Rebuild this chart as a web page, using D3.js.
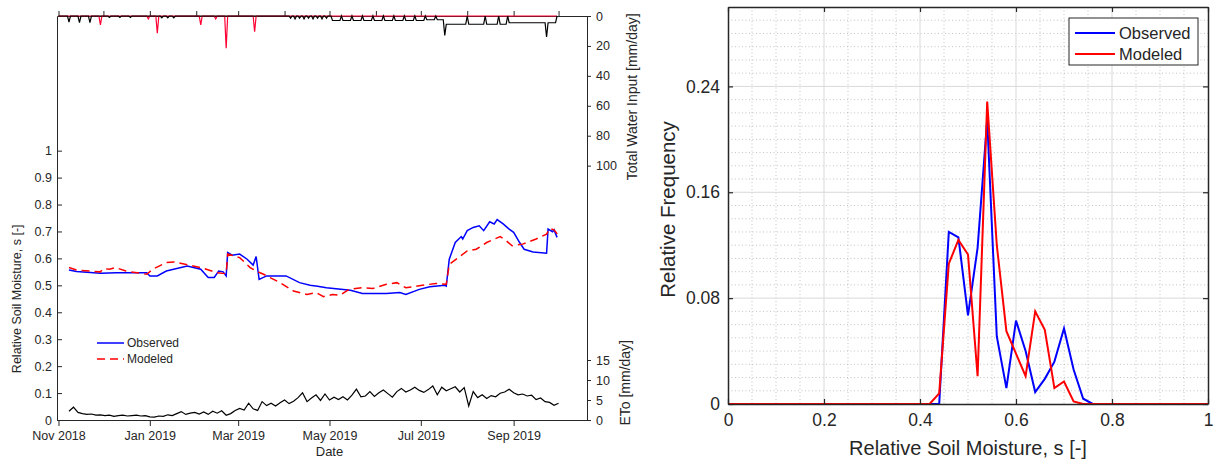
<!DOCTYPE html>
<html>
<head>
<meta charset="utf-8">
<script src="https://cdn.jsdelivr.net/npm/d3@7"></script>
<style>
  body { margin: 0; background: #fff; }
  svg { display: block; font-family: "Liberation Sans", Arial, sans-serif; }
</style>
</head>
<body>
<svg id="chart" width="1214" height="463"></svg>
<script>
// ---- data (left panel: time series) ----
const obsDates = ["2018-11-08","2018-11-13","2018-11-29","2018-12-10","2018-12-30","2019-01-01","2019-01-06","2019-01-12",
  "2019-01-26","2019-02-04","2019-02-09","2019-02-13","2019-02-16","2019-02-19","2019-02-21","2019-02-22","2019-02-25",
  "2019-03-02","2019-03-07","2019-03-11","2019-03-13","2019-03-15","2019-03-20","2019-04-02","2019-04-11","2019-04-18",
  "2019-04-23","2019-04-29","2019-05-15","2019-05-23","2019-06-08","2019-06-17","2019-06-21","2019-06-30","2019-07-07",
  "2019-07-17","2019-07-18","2019-07-20","2019-07-24","2019-07-28","2019-07-29","2019-08-01","2019-08-05","2019-08-09",
  "2019-08-12","2019-08-16","2019-08-19","2019-08-21","2019-08-25","2019-08-29","2019-09-01","2019-09-05","2019-09-08",
  "2019-09-14","2019-09-23","2019-09-24","2019-09-27","2019-09-28","2019-09-30"];
const obsValues = [0.557,0.551,0.545,0.547,0.547,0.535,0.535,0.553,
  0.572,0.560,0.529,0.529,0.553,0.550,0.535,0.622,0.612,
  0.616,0.597,0.575,0.607,0.522,0.535,0.535,0.510,0.500,
  0.497,0.491,0.482,0.470,0.470,0.473,0.466,0.485,0.495,
  0.500,0.497,0.597,0.659,0.681,0.672,0.703,0.715,0.721,
  0.703,0.736,0.728,0.744,0.728,0.709,0.697,0.659,0.634,
  0.624,0.619,0.709,0.699,0.706,0.678];

const modDates = ["2018-11-08","2018-11-13","2018-11-29","2018-12-01","2018-12-05","2018-12-09","2018-12-16","2018-12-30",
  "2019-01-03","2019-01-12","2019-01-17","2019-02-04","2019-02-15","2019-02-21","2019-02-22","2019-03-02","2019-03-09",
  "2019-03-13","2019-03-18","2019-03-29","2019-04-07","2019-04-16","2019-04-22","2019-04-27","2019-05-03","2019-05-08",
  "2019-05-14","2019-05-23","2019-05-30","2019-06-08","2019-06-15","2019-06-21","2019-06-26","2019-07-02","2019-07-11",
  "2019-07-18","2019-07-20","2019-07-27","2019-08-01","2019-08-07","2019-08-14","2019-08-23","2019-08-27","2019-08-31",
  "2019-09-07","2019-09-16","2019-09-23","2019-09-25","2019-09-28","2019-10-01"];
const modValues = [0.566,0.557,0.550,0.562,0.560,0.566,0.553,0.541,
  0.560,0.585,0.587,0.566,0.547,0.543,0.616,0.603,0.566,
  0.553,0.541,0.510,0.479,0.466,0.473,0.458,0.466,0.463,
  0.485,0.491,0.488,0.504,0.510,0.491,0.495,0.500,0.507,
  0.504,0.578,0.607,0.628,0.634,0.659,0.681,0.666,0.647,
  0.653,0.672,0.690,0.711,0.706,0.685];

// reference ET, sampled every 3 days from the start date
const etoStart = "2018-11-08";
const etoStep = 3;
const etoValues = [2.2,3.2,1.9,1.6,1.4,1.5,1.2,1.3,1.1,1.2,
  0.9,1.1,1.2,1.0,1.1,1.2,1.0,1.1,0.8,0.7,
  1.0,0.9,1.3,1.1,1.6,2.1,1.4,1.7,1.9,1.5,
  2.0,1.4,2.2,1.7,2.3,1.2,1.6,2.4,2.9,2.5,
  4.2,2.8,2.4,4.6,3.6,4.2,3.5,4.3,5.0,4.1,
  4.7,5.6,6.8,4.6,5.5,6.3,4.9,6.5,5.0,5.7,
  5.1,5.8,5.0,6.2,7.7,5.8,6.0,7.1,5.9,6.8,
  7.5,6.6,5.7,7.1,7.9,7.0,7.5,8.2,7.4,6.9,
  7.6,8.5,6.3,8.2,7.3,7.8,8.3,7.0,8.1,3.5,
  7.1,5.6,6.3,5.4,6.1,5.8,6.7,7.0,7.7,6.8,
  6.3,6.5,6.0,6.2,5.1,5.5,4.6,4.4,3.7,4.2];

// rainfall spikes (single days)
const rainDates = ["2018-11-29","2018-12-31","2019-01-06","2019-02-04","2019-02-14","2019-02-21","2019-03-12"];
const rainValues = [6, 2, 11.5, 6, 2, 21.5, 10.5];

// irrigation blocks: start, end, mm/day
const irrigStart = ["2018-11-08","2018-11-15","2018-11-22","2018-12-05","2018-12-12","2018-12-19","2019-01-09","2019-01-13",
  "2019-01-17","2019-04-05","2019-04-08","2019-04-11","2019-04-14","2019-04-17","2019-04-20","2019-04-23","2019-04-26",
  "2019-04-29","2019-05-03","2019-05-10","2019-05-17","2019-05-24","2019-05-31","2019-06-07","2019-06-14","2019-06-21",
  "2019-06-28","2019-07-05","2019-07-12","2019-07-17","2019-07-18","2019-08-02","2019-08-14","2019-08-23","2019-08-29",
  "2019-09-23","2019-09-24"];
const irrigEnd = ["2018-11-08","2018-11-15","2018-11-22","2018-12-05","2018-12-12","2018-12-19","2019-01-09","2019-01-13",
  "2019-01-17","2019-04-05","2019-04-08","2019-04-11","2019-04-14","2019-04-17","2019-04-20","2019-04-23","2019-04-26",
  "2019-04-29","2019-05-08","2019-05-15","2019-05-22","2019-05-29","2019-06-05","2019-06-12","2019-06-19","2019-06-26",
  "2019-07-03","2019-07-10","2019-07-16","2019-07-17","2019-07-31","2019-08-12","2019-08-21","2019-08-27","2019-09-22",
  "2019-09-23","2019-09-29"];
const irrigValues = [4,4.5,4.5,1,1,1,1.2,1.2,
  1.2,1.5,2,1.5,2,1.5,2,1.5,2,
  1.5,3,3,3,3,3,3,3,3,
  3,2.5,2.5,13,5.5,5.5,5.5,5.5,4.5,
  14,4.5];

const dateTicks = ["2018-11-01","2019-01-01","2019-03-01","2019-05-01","2019-07-01","2019-09-01"];
const soilTicks = [0,0.1,0.2,0.3,0.4,0.5,0.6,0.7,0.8,0.9,1];
const waterTicks = [0,20,40,60,80,100];
const etoTicks = [0,5,10,15];

// ---- data (right panel: histogram) ----
const binCenters = d3.range(0, 51).map(i => +(i * 0.02).toFixed(2));
const obsFreq = [0,0,0,0,0,0,0,0,0,0, 0,0,0,0,0,0,0,0,0,0, 0,0,0,0.130,0.126,0.067,0.118,0.215,0.051,0.012,
  0.063,0.040,0.009,0.019,0.032,0.057,0.026,0.004,0,0, 0,0,0,0,0,0,0,0,0,0, 0];
const modFreq = [0,0,0,0,0,0,0,0,0,0, 0,0,0,0,0,0,0,0,0,0, 0,0,0.008,0.106,0.124,0.113,0.021,0.2285,0.120,0.055,
  0.038,0.021,0.070,0.056,0.012,0.017,0.002,0,0,0, 0,0,0,0,0,0,0,0,0,0, 0];
const sTicks = [0,0.2,0.4,0.6,0.8,1];
const fTicks = [0,0.08,0.16,0.24];

const parse = d3.timeParse("%Y-%m-%d");
const svg = d3.select("#chart");
const ink = "#262626";

// ================= left panel =================
const L = {left: 57, right: 587, top: 16, bottom: 420};

const x = d3.scaleTime()
  .domain([parse("2018-10-31"), parse("2019-10-20")])
  .range([L.left, L.right]);
const ySoil = d3.scaleLinear().domain([0, 1.5]).range([L.bottom, L.top]);
const yWater = d3.scaleLinear().domain([0, 270]).range([L.top, L.bottom]);
const yEto = d3.scaleLinear().domain([0, 101]).range([L.bottom, L.top]);

// daily water input table
const days = d3.timeDay.range(parse("2018-11-01"), parse("2019-10-01"));
const rainMap = new Map(rainDates.map((d, i) => [+parse(d), rainValues[i]]));
const rainSeries = days.map(d => ({date: d, v: rainMap.get(+d) || 0}));
const irrigSeries = days.map(d => {
  let v = 0;
  irrigStart.forEach((s, i) => {
    if (d >= parse(s) && d <= parse(irrigEnd[i])) v = irrigValues[i];
  });
  return {date: d, v: v};
});

const obs = obsDates.map((d, i) => ({date: parse(d), v: obsValues[i]}));
const mod = modDates.map((d, i) => ({date: parse(d), v: modValues[i]}));
const eto = etoValues.map((v, i) => ({date: d3.timeDay.offset(parse(etoStart), i * etoStep), v: v}));

const left = svg.append("g");

// top axis line with monthly ticks
left.append("g")
  .attr("transform", `translate(0,${L.top})`)
  .call(d3.axisTop(x).ticks(d3.timeMonth.every(1)).tickSize(5).tickSizeOuter(0).tickFormat(""))
  .call(g => g.selectAll("line,path").attr("stroke", ink));

const waterLine = d3.line().x(d => x(d.date)).y(d => yWater(d.v));
left.append("path").datum(rainSeries)
  .attr("fill", "none").attr("stroke", "#ff0033").attr("stroke-width", 1.2)
  .attr("d", waterLine);
left.append("path").datum(irrigSeries)
  .attr("fill", "none").attr("stroke", "#000").attr("stroke-width", 1.2)
  .attr("d", waterLine);

left.append("path").datum(eto)
  .attr("fill", "none").attr("stroke", "#000").attr("stroke-width", 1.2)
  .attr("d", d3.line().x(d => x(d.date)).y(d => yEto(d.v)));

const soilLine = d3.line().x(d => x(d.date)).y(d => ySoil(d.v));
left.append("path").datum(obs)
  .attr("fill", "none").attr("stroke", "#0000ff").attr("stroke-width", 1.5)
  .attr("d", soilLine);
left.append("path").datum(mod)
  .attr("fill", "none").attr("stroke", "#ff0000").attr("stroke-width", 1.5)
  .attr("stroke-dasharray", "8,5")
  .attr("d", soilLine);

// axes
const fmtSoil = d => (d === 0 ? "0" : d === 1 ? "1" : d3.format(".1f")(d));
left.append("g")
  .attr("transform", `translate(${L.left},0)`)
  .call(d3.axisLeft(ySoil).tickValues(soilTicks).tickFormat(fmtSoil).tickSize(-5).tickSizeOuter(0).tickPadding(5));

left.append("g")
  .attr("transform", `translate(0,${L.bottom})`)
  .call(d3.axisBottom(x).tickValues(dateTicks.map(parse)).tickFormat(d3.timeFormat("%b %Y"))
    .tickSize(6).tickSizeOuter(0).tickPadding(5));

left.append("g")
  .attr("transform", `translate(${L.right},0)`)
  .call(d3.axisRight(yWater).tickValues(waterTicks).tickSize(4).tickSizeOuter(0).tickPadding(5));

left.append("g")
  .attr("transform", `translate(${L.right},0)`)
  .call(d3.axisRight(yEto).tickValues(etoTicks).tickSize(4).tickSizeOuter(0).tickPadding(5))
  .call(g => g.select(".domain").remove());

left.selectAll(".tick text").attr("font-size", "12.5px").attr("fill", ink)
  .attr("font-family", "Liberation Sans, Arial, sans-serif");
left.selectAll(".domain, .tick line").attr("stroke", ink);

// axis titles
left.append("text")
  .attr("transform", `translate(17,${ySoil(0.45)}) rotate(-90)`)
  .attr("text-anchor", "middle").attr("dy", "0.35em")
  .attr("font-size", "12.5px").attr("fill", ink)
  .text("Relative Soil Moisture, s [-]");
left.append("text")
  .attr("transform", `translate(632,${yWater(54)}) rotate(-90)`)
  .attr("text-anchor", "middle").attr("dy", "0.35em")
  .attr("font-size", "14px").attr("fill", ink)
  .text("Total Water Input [mm/day]");
left.append("text")
  .attr("transform", `translate(625,${yEto(9.3)}) rotate(-90)`)
  .attr("text-anchor", "middle").attr("dy", "0.35em")
  .attr("font-size", "14px").attr("fill", ink)
  .text("ETo [mm/day]");
left.append("text")
  .attr("x", x(parse("2019-05-01"))).attr("y", 456)
  .attr("text-anchor", "middle")
  .attr("font-size", "13px").attr("fill", ink)
  .text("Date");

// legend
const legL = left.append("g").attr("transform", "translate(97,343)");
[["Observed", "#0000ff", null], ["Modeled", "#ff0000", "8,5"]].forEach((d, i) => {
  legL.append("line").attr("x1", 0).attr("x2", 27).attr("y1", i * 16).attr("y2", i * 16)
    .attr("stroke", d[1]).attr("stroke-width", 1.5).attr("stroke-dasharray", d[2]);
  legL.append("text").attr("x", 30).attr("y", i * 16).attr("dy", "0.35em")
    .attr("font-size", "12px").attr("fill", ink).text(d[0]);
});

// ================= right panel =================
const R = {left: 728, right: 1208, top: 7, bottom: 404};
const xs = d3.scaleLinear().domain([0, 1]).range([R.left, R.right]);
const yf = d3.scaleLinear().domain([0, 0.3]).range([R.bottom, R.top]);

const right = svg.append("g");

// minor grid
const minorX = d3.range(1, 20).map(i => i * 0.05).filter(v => Math.abs(v / 0.2 - Math.round(v / 0.2)) > 1e-6);
const minorY = d3.range(1, 30).map(i => i * 0.01).filter(v => Math.abs(v / 0.08 - Math.round(v / 0.08)) > 1e-6);
right.append("g").selectAll("line").data(minorX).join("line")
  .attr("x1", d => xs(d)).attr("x2", d => xs(d)).attr("y1", R.top).attr("y2", R.bottom)
  .attr("stroke", "#9a9a9a").attr("stroke-width", 0.6).attr("stroke-dasharray", "1,2.5");
right.append("g").selectAll("line").data(minorY).join("line")
  .attr("x1", R.left).attr("x2", R.right).attr("y1", d => yf(d)).attr("y2", d => yf(d))
  .attr("stroke", "#9a9a9a").attr("stroke-width", 0.6).attr("stroke-dasharray", "1,2.5");

// major grid
right.append("g").selectAll("line").data(sTicks.slice(1, -1)).join("line")
  .attr("x1", d => xs(d)).attr("x2", d => xs(d)).attr("y1", R.top).attr("y2", R.bottom)
  .attr("stroke", "#d9d9d9").attr("stroke-width", 1);
right.append("g").selectAll("line").data(fTicks.slice(1)).join("line")
  .attr("x1", R.left).attr("x2", R.right).attr("y1", d => yf(d)).attr("y2", d => yf(d))
  .attr("stroke", "#d9d9d9").attr("stroke-width", 1);

const freqLine = d3.line().x((d, i) => xs(binCenters[i])).y(d => yf(d));
right.append("path").datum(obsFreq)
  .attr("fill", "none").attr("stroke", "#0000ff").attr("stroke-width", 2)
  .attr("d", freqLine);
right.append("path").datum(modFreq)
  .attr("fill", "none").attr("stroke", "#ff0000").attr("stroke-width", 2)
  .attr("d", freqLine);

// box with inward ticks
const fmtS = d => (d === 0 ? "0" : d === 1 ? "1" : d3.format(".1f")(d));
const fmtF = d => (d === 0 ? "0" : d3.format(".2f")(d));
right.append("g").attr("transform", `translate(0,${R.bottom})`)
  .call(d3.axisBottom(xs).tickValues(sTicks).tickFormat(fmtS).tickSize(-5).tickSizeOuter(0).tickPadding(10));
right.append("g").attr("transform", `translate(0,${R.top})`)
  .call(d3.axisTop(xs).tickValues(sTicks).tickFormat("").tickSize(-5).tickSizeOuter(0));
right.append("g").attr("transform", `translate(${R.left},0)`)
  .call(d3.axisLeft(yf).tickValues(fTicks).tickFormat(fmtF).tickSize(-5).tickSizeOuter(0).tickPadding(8));
right.append("g").attr("transform", `translate(${R.right},0)`)
  .call(d3.axisRight(yf).tickValues(fTicks).tickFormat("").tickSize(-5).tickSizeOuter(0));

right.selectAll(".domain").attr("stroke", ink).attr("stroke-width", 1.5);
right.selectAll(".tick line").attr("stroke", ink).attr("stroke-width", 1.2);
right.selectAll(".tick text").attr("font-size", "17.5px").attr("fill", ink)
  .attr("font-family", "Liberation Sans, Arial, sans-serif");

right.append("text")
  .attr("x", (R.left + R.right) / 2).attr("y", 455)
  .attr("text-anchor", "middle")
  .attr("font-size", "20px").attr("fill", ink)
  .text("Relative Soil Moisture, s [-]");
right.append("text")
  .attr("transform", `translate(668,${yf(0.147)}) rotate(-90)`)
  .attr("text-anchor", "middle").attr("dy", "0.35em")
  .attr("font-size", "20.5px").attr("fill", ink)
  .text("Relative Frequency");

// legend
const legR = right.append("g").attr("transform", "translate(1069,18)");
legR.append("rect").attr("width", 129).attr("height", 47)
  .attr("fill", "#fff").attr("stroke", ink).attr("stroke-width", 1);
[["Observed", "#0000ff"], ["Modeled", "#ff0000"]].forEach((d, i) => {
  legR.append("line").attr("x1", 6).attr("x2", 46).attr("y1", 15 + i * 21).attr("y2", 15 + i * 21)
    .attr("stroke", d[1]).attr("stroke-width", 2);
  legR.append("text").attr("x", 50).attr("y", 15 + i * 21).attr("dy", "0.35em")
    .attr("font-size", "16.5px").attr("fill", ink).text(d[0]);
});
</script>
</body>
</html>
